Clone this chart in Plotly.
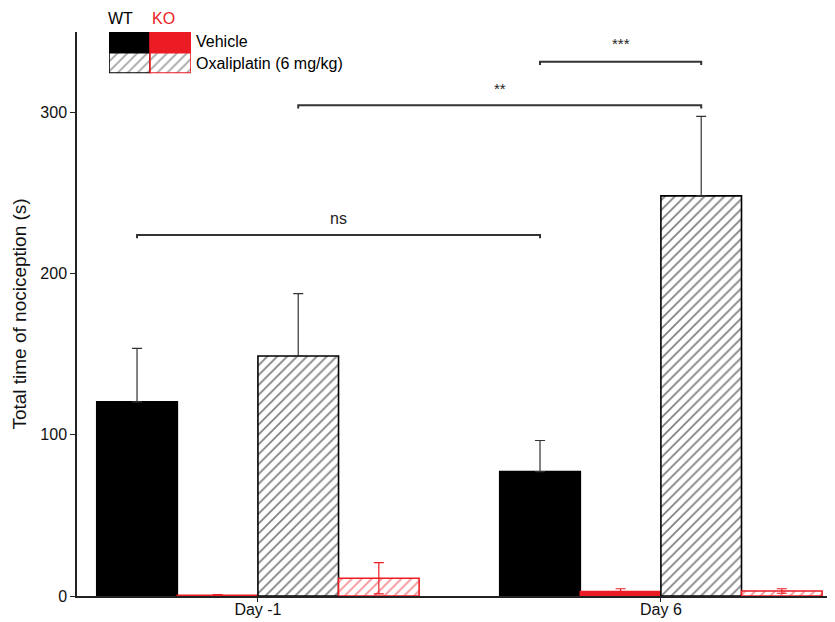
import plotly.graph_objects as go

# ---------------- data ----------------
days = ["Day -1", "Day 6"]
wt_vehicle = [120.5, 77.2]
wt_vehicle_sem = [33.2, 19.3]
ko_vehicle = [0.5, 2.7]
ko_vehicle_sem = [0.4, 1.8]
wt_oxali = [148.9, 248.3]
wt_oxali_sem = [38.8, 49.3]
ko_oxali = [11.0, 3.1]
ko_oxali_sem = [9.7, 1.4]

# comparisons: (label, day index A, bar slot A, day index B, bar slot B, bracket height)
comparisons = [
    ("ns", 0, 0, 1, 0, 224),
    ("**", 0, 2, 1, 2, 304.5),
    ("***", 1, 0, 1, 2, 331.5),
]

BLACK = "#000000"
RED = "#ec1c24"
FONT = "Liberation Sans, Arial, sans-serif"
HATCH_SIZE = 7
HATCH_SOLID = 0.24

fig = go.Figure()

series = [
    ("WT Vehicle", wt_vehicle, wt_vehicle_sem, BLACK, "", False),
    ("KO Vehicle", ko_vehicle, ko_vehicle_sem, RED, "", True),
    ("WT Oxaliplatin", wt_oxali, wt_oxali_sem, BLACK, "/", False),
    ("KO Oxaliplatin", ko_oxali, ko_oxali_sem, RED, "/", True),
]
for name, vals, sem, col, shape, sym in series:
    hatched = shape != ""
    fig.add_trace(go.Bar(
        x=[0, 1], y=vals, name=name, showlegend=False,
        marker=dict(
            color="white" if hatched else col,
            line=dict(color=col, width=1.6),
            pattern=dict(shape=shape, fgcolor=col, bgcolor="white",
                         size=HATCH_SIZE, solidity=HATCH_SOLID,
                         fillmode="overlay") if hatched else None,
        ),
        error_y=dict(type="data", array=sem,
                     arrayminus=sem if sym else [0] * len(sem),
                     symmetric=False, color=col if col == RED else "#333333",
                     thickness=1.2, width=5),
    ))

# legend swatches (on an overlay axis)
fig.add_trace(go.Bar(
    x=[0, 1, 0, 1], y=[1, 1, 1, 1], base=[1, 1, 0, 0], width=1,
    xaxis="x2", yaxis="y2", showlegend=False, hoverinfo="skip",
    marker=dict(
        color=[BLACK, RED, "white", "white"],
        line=dict(color=[BLACK, RED, BLACK, RED], width=1.6),
        pattern=dict(shape=["", "", "/", "/"], fgcolor=[BLACK, RED, BLACK, RED],
                     bgcolor="white", size=HATCH_SIZE, solidity=HATCH_SOLID,
                     fillmode="overlay"),
    ),
))

# significance brackets
offsets = [-0.3, -0.1, 0.1, 0.3]
tick = 2.0
for label, da, sa, db, sb, h in comparisons:
    xa = da + offsets[sa]
    xb = db + offsets[sb]
    fig.add_shape(type="path",
                  path=f"M {xa} {h - tick} L {xa} {h} L {xb} {h} L {xb} {h - tick}",
                  line=dict(color="#333333", width=2))
    fig.add_annotation(x=(xa + xb) / 2, y=h, text=label, showarrow=False,
                       yanchor="bottom", yshift=6 if label != "***" else 8,
                       font=dict(size=16 if label == "ns" else 15, color="#222222"))

# legend texts
fig.add_annotation(x=0.058, y=1.024, xref="paper", yref="paper", text="WT",
                   xanchor="center", yanchor="middle", showarrow=False,
                   font=dict(size=16, color=BLACK))
fig.add_annotation(x=0.1135, y=1.024, xref="paper", yref="paper", text="KO",
                   xanchor="center", yanchor="middle", showarrow=False,
                   font=dict(size=16, color=RED))
fig.add_annotation(x=0.155, y=0.984, xref="paper", yref="paper", text="Vehicle",
                   xanchor="left", yanchor="middle", showarrow=False,
                   font=dict(size=16, color=BLACK))
fig.add_annotation(x=0.155, y=0.945, xref="paper", yref="paper",
                   text="Oxaliplatin (6 mg/kg)",
                   xanchor="left", yanchor="middle", showarrow=False,
                   font=dict(size=16, color=BLACK))

fig.update_layout(
    width=827, height=614,
    margin=dict(l=69, r=0, t=24, b=26),
    paper_bgcolor="white", plot_bgcolor="white",
    font=dict(family=FONT, size=16, color="#111111"),
    barmode="group", bargap=0.2, bargroupgap=0,
    xaxis=dict(range=[-0.449, 1.432], tickvals=[0, 1], ticktext=days,
               showline=True, linecolor="#222222", linewidth=1.5,
               ticks="outside", ticklen=4, tickcolor="#222222",
               ticklabelstandoff=-6,
               showgrid=False, zeroline=False),
    yaxis=dict(range=[0, 350], tickvals=[0, 100, 200, 300],
               title=dict(text="Total time of nociception (s)", standoff=9),
               showline=True, linecolor="#222222", linewidth=1.5,
               ticks="outside", ticklen=5, tickcolor="#222222",
               showgrid=False, zeroline=False),
    xaxis2=dict(domain=[0.0422, 0.1504], range=[-0.5, 1.5], anchor="y2",
                visible=False, fixedrange=True),
    yaxis2=dict(domain=[0.927, 1.0], range=[0, 2], anchor="x2",
                visible=False, fixedrange=True),
)

fig.write_html("out.html")
